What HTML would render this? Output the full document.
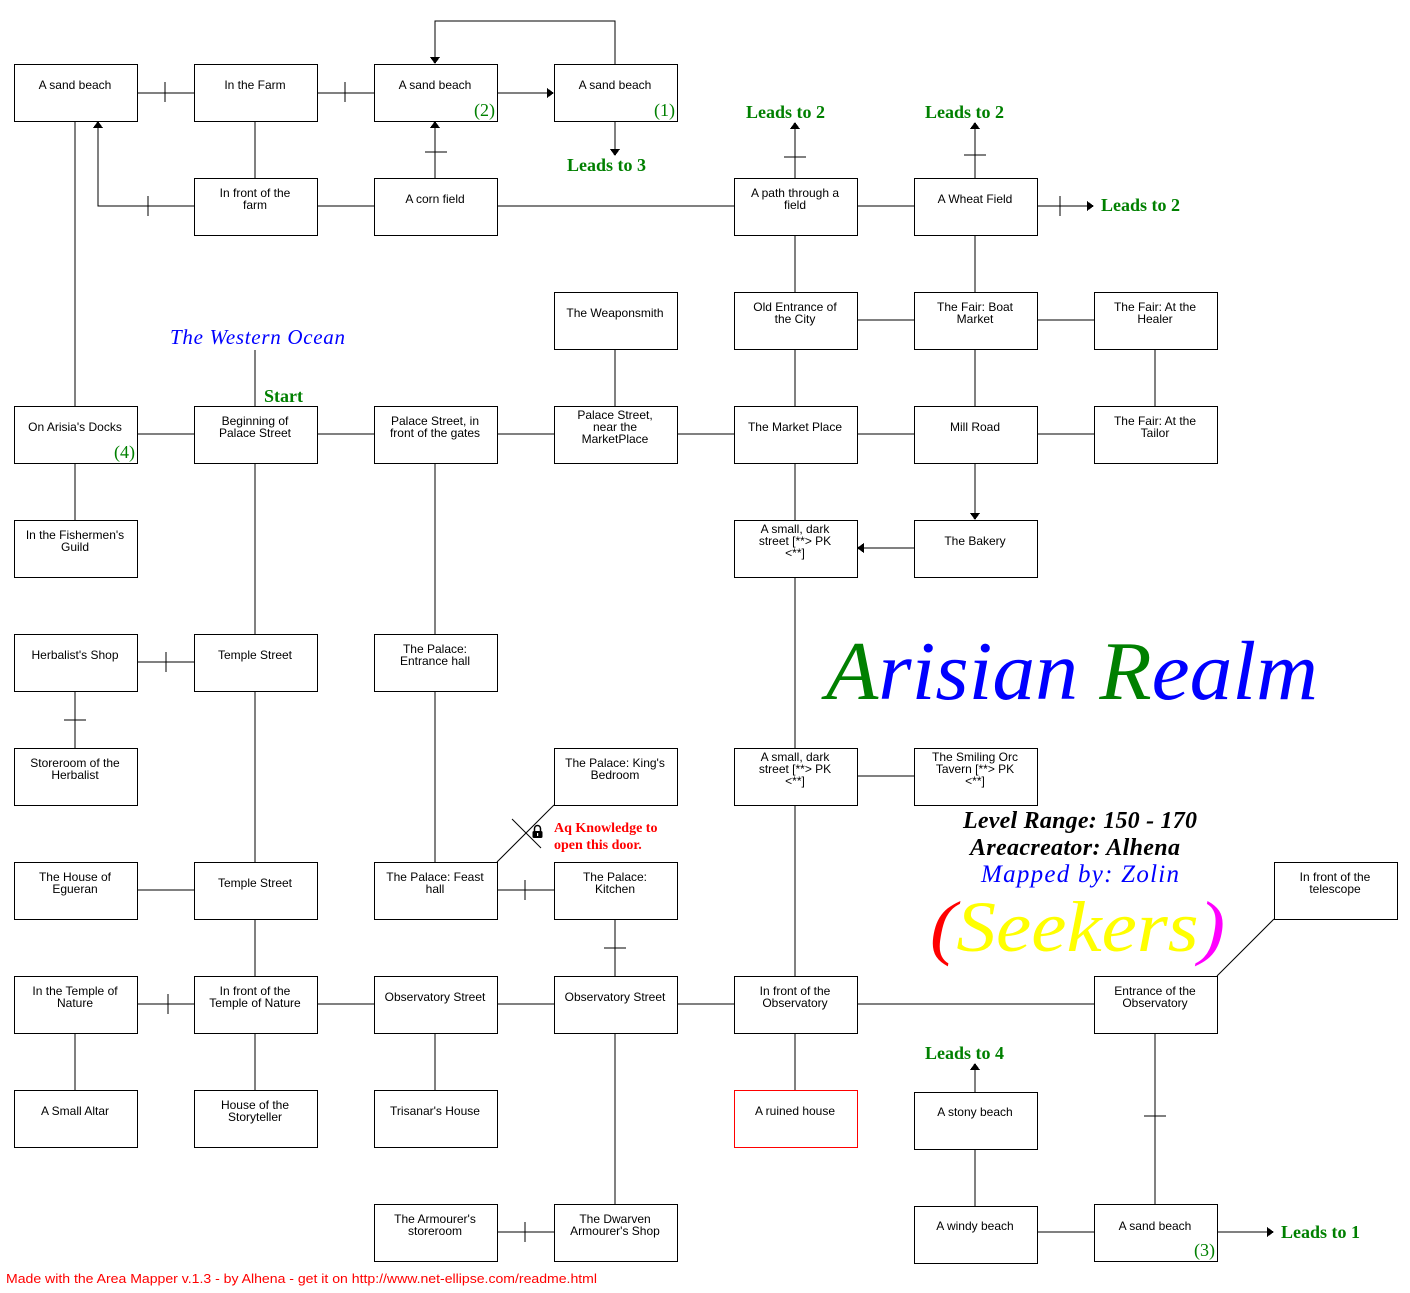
<!DOCTYPE html>
<html><head><meta charset="utf-8"><style>
html,body{margin:0;padding:0;background:#fff;}
svg{display:block;}
.b{fill:#fff;stroke:#000;stroke-width:1;}
.t{font-family:"Liberation Sans",sans-serif;font-size:12px;fill:#000;text-anchor:middle;}
.g{font-family:"Liberation Serif",serif;font-size:18px;fill:#008000;}
.n{font-family:"Liberation Serif",serif;font-size:18px;fill:#008000;text-anchor:end;}
line,polyline{stroke:#000;stroke-width:1;fill:none;}
</style></head><body>
<svg width="1410" height="1293" viewBox="0 0 1410 1293" xmlns="http://www.w3.org/2000/svg" shape-rendering="crispEdges">
<g>
<line x1="75" y1="93" x2="435" y2="93"/>
<line x1="435" y1="93" x2="548" y2="93"/><polygon points="554,93 547,88 547,98" fill="#000"/>
<line x1="165" y1="82" x2="165" y2="102"/><line x1="345" y1="82" x2="345" y2="102"/>
<polyline points="615,64 615,21 435,21 435,58"/><polygon points="435,64 430,57 440,57" fill="#000"/>
<line x1="615" y1="121" x2="615" y2="150"/><polygon points="615,156 610,149 620,149" fill="#000"/>
<line x1="255" y1="93" x2="255" y2="206"/>
<polyline points="194,206 98,206 98,127"/><polygon points="98,121 93,128 103,128" fill="#000"/>
<line x1="148" y1="196" x2="148" y2="216"/>
<line x1="255" y1="206" x2="975" y2="206"/>
<line x1="435" y1="206" x2="435" y2="127"/><polygon points="435,121 430,128 440,128" fill="#000"/>
<line x1="425" y1="152" x2="447" y2="152"/>
<line x1="795" y1="206" x2="795" y2="128"/><polygon points="795,122 790,129 800,129" fill="#000"/>
<line x1="784" y1="157" x2="806" y2="157"/>
<line x1="975" y1="206" x2="975" y2="128"/><polygon points="975,122 970,129 980,129" fill="#000"/>
<line x1="964" y1="155" x2="986" y2="155"/>
<line x1="975" y1="206" x2="1088" y2="206"/><polygon points="1094,206 1087,201 1087,211" fill="#000"/>
<line x1="1060" y1="196" x2="1060" y2="216"/>
<line x1="795" y1="206" x2="795" y2="320"/><line x1="975" y1="206" x2="975" y2="320"/>
<line x1="795" y1="320" x2="1155" y2="320"/>
<line x1="975" y1="320" x2="975" y2="434"/><line x1="1155" y1="320" x2="1155" y2="434"/>
<line x1="795" y1="320" x2="795" y2="434"/><line x1="615" y1="320" x2="615" y2="434"/>
<line x1="75" y1="93" x2="75" y2="434"/>
<line x1="255" y1="350" x2="255" y2="434"/>
<line x1="75" y1="434" x2="1155" y2="434"/>
<line x1="75" y1="434" x2="75" y2="548"/>
<line x1="255" y1="434" x2="255" y2="890"/>
<line x1="435" y1="434" x2="435" y2="890"/>
<line x1="795" y1="434" x2="795" y2="1118"/>
<line x1="975" y1="434" x2="975" y2="514"/><polygon points="975,520 970,513 980,513" fill="#000"/>
<line x1="914" y1="548" x2="863" y2="548"/><polygon points="857,548 864,543 864,553" fill="#000"/>
<line x1="795" y1="776" x2="975" y2="776"/>
<line x1="75" y1="662" x2="255" y2="662"/><line x1="166" y1="652" x2="166" y2="672"/>
<line x1="75" y1="662" x2="75" y2="776"/><line x1="64" y1="720" x2="86" y2="720"/>
<line x1="75" y1="890" x2="255" y2="890"/>
<line x1="255" y1="890" x2="255" y2="1118"/>
<line x1="497" y1="862" x2="554" y2="805" shape-rendering="auto"/>
<line x1="512" y1="819" x2="541" y2="848" shape-rendering="auto"/>
<line x1="435" y1="890" x2="615" y2="890"/><line x1="525" y1="880" x2="525" y2="900"/>
<line x1="615" y1="890" x2="615" y2="1232"/><line x1="604" y1="948" x2="626" y2="948"/>
<line x1="75" y1="1004" x2="1155" y2="1004"/><line x1="168" y1="994" x2="168" y2="1014"/>
<line x1="75" y1="1004" x2="75" y2="1118"/><line x1="435" y1="1004" x2="435" y2="1118"/>
<line x1="1217" y1="976" x2="1274" y2="919" shape-rendering="auto"/>
<line x1="1155" y1="1004" x2="1155" y2="1232"/><line x1="1144" y1="1116" x2="1166" y2="1116"/>
<line x1="975" y1="1118" x2="975" y2="1069"/><polygon points="975,1063 970,1070 980,1070" fill="#000"/>
<line x1="975" y1="1118" x2="975" y2="1232"/>
<line x1="975" y1="1232" x2="1268" y2="1232"/><polygon points="1274,1232 1267,1227 1267,1237" fill="#000"/>
<line x1="435" y1="1232" x2="615" y2="1232"/><line x1="525" y1="1222" x2="525" y2="1242"/>
</g>
<g shape-rendering="auto"><path d="M534.5,831 v-2.5 a3,3 0 0 1 6,0 v2.5" stroke="#000" stroke-width="1.5" fill="none"/><rect x="532.5" y="831" width="10" height="7" rx="1.5" fill="#000"/><rect x="537" y="833" width="1.2" height="3" fill="#fff"/></g>
<g>
<rect class="b" x="14.5" y="64.5" width="123" height="57"/><text class="t" x="75" y="89">A sand beach</text>
<rect class="b" x="194.5" y="64.5" width="123" height="57"/><text class="t" x="255" y="89">In the Farm</text>
<rect class="b" x="374.5" y="64.5" width="123" height="57"/><text class="t" x="435" y="89">A sand beach</text><text class="n" x="495" y="116">(2)</text>
<rect class="b" x="554.5" y="64.5" width="123" height="57"/><text class="t" x="615" y="89">A sand beach</text><text class="n" x="675" y="116">(1)</text>

<rect class="b" x="194.5" y="178.5" width="123" height="57"/><text class="t" x="255" y="197">In front of the</text><text class="t" x="255" y="209">farm</text>
<rect class="b" x="374.5" y="178.5" width="123" height="57"/><text class="t" x="435" y="203">A corn field</text>
<rect class="b" x="734.5" y="178.5" width="123" height="57"/><text class="t" x="795" y="197">A path through a</text><text class="t" x="795" y="209">field</text>
<rect class="b" x="914.5" y="178.5" width="123" height="57"/><text class="t" x="975" y="203">A Wheat Field</text>

<rect class="b" x="554.5" y="292.5" width="123" height="57"/><text class="t" x="615" y="317">The Weaponsmith</text>
<rect class="b" x="734.5" y="292.5" width="123" height="57"/><text class="t" x="795" y="311">Old Entrance of</text><text class="t" x="795" y="323">the City</text>
<rect class="b" x="914.5" y="292.5" width="123" height="57"/><text class="t" x="975" y="311">The Fair: Boat</text><text class="t" x="975" y="323">Market</text>
<rect class="b" x="1094.5" y="292.5" width="123" height="57"/><text class="t" x="1155" y="311">The Fair: At the</text><text class="t" x="1155" y="323">Healer</text>

<rect class="b" x="14.5" y="406.5" width="123" height="57"/><text class="t" x="75" y="431">On Arisia's Docks</text><text class="n" x="135" y="458">(4)</text>
<rect class="b" x="194.5" y="406.5" width="123" height="57"/><text class="t" x="255" y="425">Beginning of</text><text class="t" x="255" y="437">Palace Street</text>
<rect class="b" x="374.5" y="406.5" width="123" height="57"/><text class="t" x="435" y="425">Palace Street, in</text><text class="t" x="435" y="437">front of the gates</text>
<rect class="b" x="554.5" y="406.5" width="123" height="57"/><text class="t" x="615" y="419">Palace Street,</text><text class="t" x="615" y="431">near the</text><text class="t" x="615" y="443">MarketPlace</text>
<rect class="b" x="734.5" y="406.5" width="123" height="57"/><text class="t" x="795" y="431">The Market Place</text>
<rect class="b" x="914.5" y="406.5" width="123" height="57"/><text class="t" x="975" y="431">Mill Road</text>
<rect class="b" x="1094.5" y="406.5" width="123" height="57"/><text class="t" x="1155" y="425">The Fair: At the</text><text class="t" x="1155" y="437">Tailor</text>

<rect class="b" x="14.5" y="520.5" width="123" height="57"/><text class="t" x="75" y="539">In the Fishermen's</text><text class="t" x="75" y="551">Guild</text>
<rect class="b" x="734.5" y="520.5" width="123" height="57"/><text class="t" x="795" y="533">A small, dark</text><text class="t" x="795" y="545">street [**&gt; PK</text><text class="t" x="795" y="557">&lt;**]</text>
<rect class="b" x="914.5" y="520.5" width="123" height="57"/><text class="t" x="975" y="545">The Bakery</text>

<rect class="b" x="14.5" y="634.5" width="123" height="57"/><text class="t" x="75" y="659">Herbalist's Shop</text>
<rect class="b" x="194.5" y="634.5" width="123" height="57"/><text class="t" x="255" y="659">Temple Street</text>
<rect class="b" x="374.5" y="634.5" width="123" height="57"/><text class="t" x="435" y="653">The Palace:</text><text class="t" x="435" y="665">Entrance hall</text>

<rect class="b" x="14.5" y="748.5" width="123" height="57"/><text class="t" x="75" y="767">Storeroom of the</text><text class="t" x="75" y="779">Herbalist</text>
<rect class="b" x="554.5" y="748.5" width="123" height="57"/><text class="t" x="615" y="767">The Palace: King's</text><text class="t" x="615" y="779">Bedroom</text>
<rect class="b" x="734.5" y="748.5" width="123" height="57"/><text class="t" x="795" y="761">A small, dark</text><text class="t" x="795" y="773">street [**&gt; PK</text><text class="t" x="795" y="785">&lt;**]</text>
<rect class="b" x="914.5" y="748.5" width="123" height="57"/><text class="t" x="975" y="761">The Smiling Orc</text><text class="t" x="975" y="773">Tavern [**&gt; PK</text><text class="t" x="975" y="785">&lt;**]</text>

<rect class="b" x="14.5" y="862.5" width="123" height="57"/><text class="t" x="75" y="881">The House of</text><text class="t" x="75" y="893">Egueran</text>
<rect class="b" x="194.5" y="862.5" width="123" height="57"/><text class="t" x="255" y="887">Temple Street</text>
<rect class="b" x="374.5" y="862.5" width="123" height="57"/><text class="t" x="435" y="881">The Palace: Feast</text><text class="t" x="435" y="893">hall</text>
<rect class="b" x="554.5" y="862.5" width="123" height="57"/><text class="t" x="615" y="881">The Palace:</text><text class="t" x="615" y="893">Kitchen</text>
<rect class="b" x="1274.5" y="862.5" width="123" height="57"/><text class="t" x="1335" y="881">In front of the</text><text class="t" x="1335" y="893">telescope</text>

<rect class="b" x="14.5" y="976.5" width="123" height="57"/><text class="t" x="75" y="995">In the Temple of</text><text class="t" x="75" y="1007">Nature</text>
<rect class="b" x="194.5" y="976.5" width="123" height="57"/><text class="t" x="255" y="995">In front of the</text><text class="t" x="255" y="1007">Temple of Nature</text>
<rect class="b" x="374.5" y="976.5" width="123" height="57"/><text class="t" x="435" y="1001">Observatory Street</text>
<rect class="b" x="554.5" y="976.5" width="123" height="57"/><text class="t" x="615" y="1001">Observatory Street</text>
<rect class="b" x="734.5" y="976.5" width="123" height="57"/><text class="t" x="795" y="995">In front of the</text><text class="t" x="795" y="1007">Observatory</text>
<rect class="b" x="1094.5" y="976.5" width="123" height="57"/><text class="t" x="1155" y="995">Entrance of the</text><text class="t" x="1155" y="1007">Observatory</text>

<rect class="b" x="14.5" y="1090.5" width="123" height="57"/><text class="t" x="75" y="1115">A Small Altar</text>
<rect class="b" x="194.5" y="1090.5" width="123" height="57"/><text class="t" x="255" y="1109">House of the</text><text class="t" x="255" y="1121">Storyteller</text>
<rect class="b" x="374.5" y="1090.5" width="123" height="57"/><text class="t" x="435" y="1115">Trisanar's House</text>
<rect class="b" x="734.5" y="1090.5" width="123" height="57" style="stroke:#f00"/><text class="t" x="795" y="1115">A ruined house</text>
<rect class="b" x="914.5" y="1092.5" width="123" height="57"/><text class="t" x="975" y="1116">A stony beach</text>

<rect class="b" x="374.5" y="1204.5" width="123" height="57"/><text class="t" x="435" y="1223">The Armourer's</text><text class="t" x="435" y="1235">storeroom</text>
<rect class="b" x="554.5" y="1204.5" width="123" height="57"/><text class="t" x="615" y="1223">The Dwarven</text><text class="t" x="615" y="1235">Armourer's Shop</text>
<rect class="b" x="914.5" y="1206.5" width="123" height="57"/><text class="t" x="975" y="1230">A windy beach</text>
<rect class="b" x="1094.5" y="1204.5" width="123" height="57"/><text class="t" x="1155" y="1230">A sand beach</text><text class="n" x="1215" y="1256">(3)</text>
</g>
<g shape-rendering="auto">
<text class="g" x="567" y="171" font-weight="bold" font-size="17">Leads to 3</text>
<text class="g" x="746" y="118" font-weight="bold" font-size="17">Leads to 2</text>
<text class="g" x="925" y="118" font-weight="bold" font-size="17">Leads to 2</text>
<text class="g" x="1101" y="211" font-weight="bold" font-size="17">Leads to 2</text>
<text class="g" x="925" y="1059" font-weight="bold" font-size="17">Leads to 4</text>
<text class="g" x="1281" y="1238" font-weight="bold" font-size="17">Leads to 1</text>
<text class="g" x="264" y="402" font-weight="bold" font-size="17">Start</text>
<text x="170" y="344" font-family="'Liberation Serif',serif" font-style="italic" font-size="21" fill="#0000ff" textLength="175">The Western Ocean</text>
<text x="554" y="832" font-family="'Liberation Serif',serif" font-weight="bold" font-size="14" fill="#ff0000">Aq Knowledge to</text>
<text x="554" y="849" font-family="'Liberation Serif',serif" font-weight="bold" font-size="14" fill="#ff0000">open this door.</text>
<text x="826" y="699" font-family="'Liberation Serif',serif" font-style="italic" font-size="84" textLength="492" lengthAdjust="spacingAndGlyphs"><tspan fill="#008000">A</tspan><tspan fill="#0000ff">risian </tspan><tspan fill="#008000">R</tspan><tspan fill="#0000ff">ealm</tspan></text>
<text x="1080" y="828" text-anchor="middle" font-family="'Liberation Serif',serif" font-style="italic" font-weight="bold" font-size="24" fill="#000" textLength="234">Level Range: 150 - 170</text>
<text x="1075" y="855" text-anchor="middle" font-family="'Liberation Serif',serif" font-style="italic" font-weight="bold" font-size="24" fill="#000" textLength="210">Areacreator: Alhena</text>
<text x="1080" y="882" text-anchor="middle" font-family="'Liberation Serif',serif" font-style="italic" font-size="25" fill="#0000ff" textLength="198">Mapped by: Zolin</text>
<text x="930" y="951" font-family="'Liberation Serif',serif" font-style="italic" font-size="72" textLength="295" lengthAdjust="spacingAndGlyphs"><tspan fill="#ff0000">(</tspan><tspan fill="#ffff00">Seekers</tspan><tspan fill="#ff00ff">)</tspan></text>
<text x="6" y="1283" font-family="'Liberation Sans',sans-serif" font-size="13" fill="#ff0000" textLength="591" lengthAdjust="spacingAndGlyphs">Made with the Area Mapper v.1.3 - by Alhena - get it on http://www.net-ellipse.com/readme.html</text>
</g>
</svg>
</body></html>
